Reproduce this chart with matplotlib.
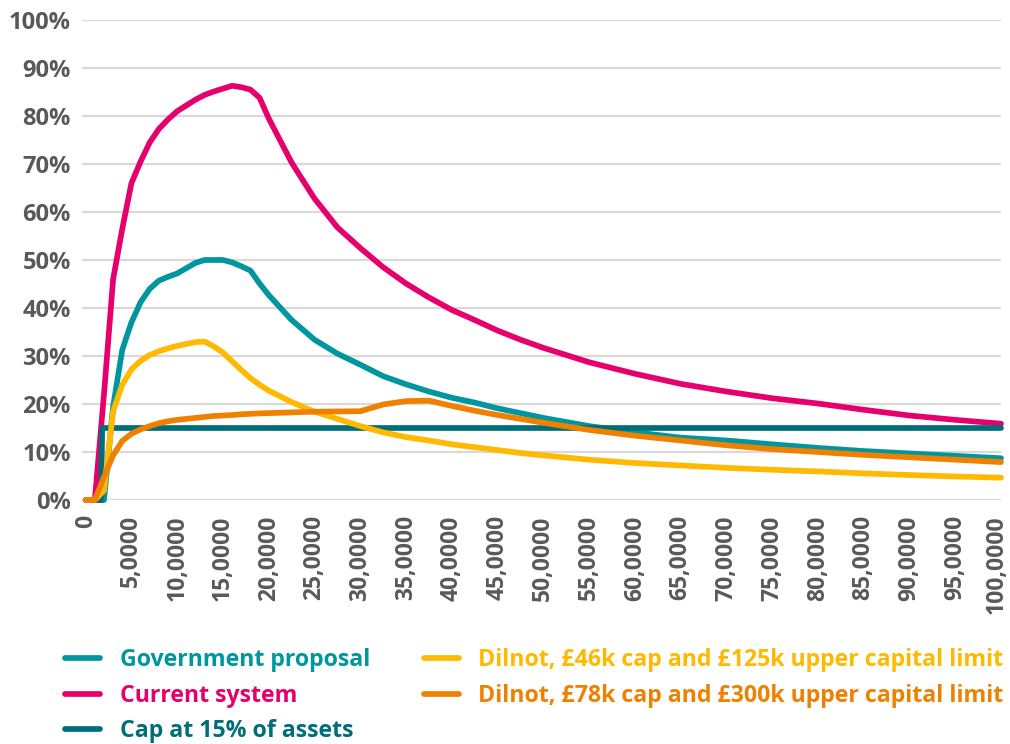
import matplotlib
matplotlib.use("Agg")
import matplotlib.pyplot as plt
import matplotlib.transforms as mtransforms
from matplotlib.ticker import FixedLocator, FixedFormatter

plt.rcParams['font.family'] = ['Open Sans', 'DejaVu Sans']

# ---- data ----
x_vals = [0, 1000, 2000, 3000, 4000, 5000, 6000, 7000, 8000, 9000, 10000,
          11000, 12000, 13000, 14000, 15000, 16000, 17000, 18000, 19000, 20000,
          22500, 25000, 27500, 30000, 32500, 35000, 37500, 40000, 42500, 45000,
          47500, 50000, 55000, 60000, 65000, 70000, 75000, 80000, 85000, 90000,
          95000, 100000]

government_proposal = [0, 0, 0, 19.5, 31.3, 37.0, 41.2, 44.0, 45.7, 46.5, 47.2,
                       48.3, 49.4, 50.0, 50.0, 50.0, 49.5, 48.7, 47.8, 45.1, 42.7,
                       37.5, 33.4, 30.5, 28.2, 25.8, 24.1, 22.6, 21.3, 20.3, 19.1,
                       18.1, 17.1, 15.4, 14.1, 13.0, 12.4, 11.6, 10.85, 10.2, 9.7,
                       9.2, 8.7]

current_system = [0, 0, 22.0, 46.0, 56.5, 66.0, 70.5, 74.5, 77.3, 79.3, 81.0,
                  82.2, 83.4, 84.4, 85.1, 85.7, 86.3, 86.0, 85.5, 83.8, 79.5,
                  70.3, 62.8, 56.8, 52.5, 48.5, 45.1, 42.2, 39.6, 37.5, 35.3,
                  33.4, 31.7, 28.7, 26.3, 24.2, 22.6, 21.2, 20.1, 18.8, 17.6,
                  16.7, 15.9]

dilnot_46k = [0, 0, 2.0, 18.5, 24.0, 27.2, 29.0, 30.2, 31.0, 31.6, 32.1,
              32.5, 32.9, 33.0, 32.0, 30.7, 28.9, 27.1, 25.4, 24.0, 22.8,
              20.4, 18.4, 16.9, 15.4, 14.1, 13.1, 12.4, 11.6, 11.0, 10.4,
              9.8, 9.3, 8.4, 7.7, 7.2, 6.7, 6.3, 5.95, 5.55, 5.2,
              4.9, 4.65]

dilnot_78k = [0, 0, 4.8, 9.3, 12.3, 13.8, 14.7, 15.4, 16.0, 16.4, 16.7,
              16.9, 17.1, 17.3, 17.5, 17.6, 17.7, 17.85, 17.95, 18.05, 18.1,
              18.25, 18.4, 18.45, 18.5, 19.9, 20.6, 20.7, 19.6, 18.6, 17.7,
              16.9, 16.1, 14.6, 13.4, 12.4, 11.4, 10.6, 10.0, 9.4, 8.9,
              8.4, 7.9]

cap_x = [0, 1700, 1800, 100000]
cap_15pct = [0, 0, 15, 15]

x_ticks = [0, 5000, 10000, 15000, 20000, 25000, 30000, 35000, 40000, 45000, 50000,
           55000, 60000, 65000, 70000, 75000, 80000, 85000, 90000, 95000, 100000]
x_tick_labels = ["0", "5,0000", "10,0000", "15,0000", "20,0000", "25,0000", "30,0000",
                 "35,0000", "40,0000", "45,0000", "50,0000", "55,0000", "60,0000",
                 "65,0000", "70,0000", "75,0000", "80,0000", "85,0000", "90,0000",
                 "95,0000", "100,0000"]
y_ticks = [0, 10, 20, 30, 40, 50, 60, 70, 80, 90, 100]
y_tick_labels = ["0%", "10%", "20%", "30%", "40%", "50%", "60%", "70%", "80%", "90%", "100%"]

labels = ["Government proposal", "Current system", "Cap at 15% of assets",
          "Dilnot, £46k cap and £125k upper capital limit",
          "Dilnot, £78k cap and £300k upper capital limit"]
colors = ["#0096A0", "#E6006E", "#006E78", "#FFB900", "#F08000"]

# ---- figure ----
fig = plt.figure(figsize=(10.1, 7.44), dpi=100)
ax = fig.add_axes([82/1010, 1 - 500/744, (1001 - 82)/1010, 480/744])

lw = 4.1
series = [(x_vals, government_proposal), (x_vals, current_system), (cap_x, cap_15pct),
          (x_vals, dilnot_46k), (x_vals, dilnot_78k)]
handles = []
for (xx, yy), lab, c in zip(series, labels, colors):
    h, = ax.plot(xx, yy, color=c, lw=lw, label=lab, solid_capstyle='round',
                 solid_joinstyle='round', clip_on=False, zorder=3)
    handles.append(h)

ax.set_xlim(-400, 100000)
ax.set_ylim(0, 100)
for s in ax.spines.values():
    s.set_visible(False)

ax.yaxis.set_major_locator(FixedLocator(y_ticks))
ax.yaxis.set_major_formatter(FixedFormatter(y_tick_labels))
ax.xaxis.set_major_locator(FixedLocator(x_ticks))
ax.xaxis.set_major_formatter(FixedFormatter(x_tick_labels))
ax.grid(axis='y', color='#D9D9D9', lw=1.6, zorder=0)
ax.set_axisbelow(True)
ax.tick_params(axis='both', length=0, labelcolor='#595959')
ax.tick_params(axis='y', pad=8, labelsize=17)
ax.tick_params(axis='x', pad=11, labelsize=16.5, labelrotation=90)
for t in ax.get_xticklabels() + ax.get_yticklabels():
    t.set_fontweight('bold')

# nudge the last x label slightly left so it stays inside the canvas
last = ax.get_xticklabels()[-1]
last.set_transform(last.get_transform() +
                   mtransforms.ScaledTranslation(-4/100, 0, fig.dpi_scale_trans))

leg = fig.legend(handles=handles, loc='upper left', ncol=2,
                 bbox_to_anchor=(56/1010, 1 - 639/744), frameon=False,
                 prop={'size': 16.7, 'weight': 'bold'}, labelcolor='linecolor',
                 handlelength=1.5, handletextpad=0.86, columnspacing=2.3,
                 labelspacing=0.5, borderaxespad=0)

fig.savefig("out.png", dpi=100, facecolor='white')
